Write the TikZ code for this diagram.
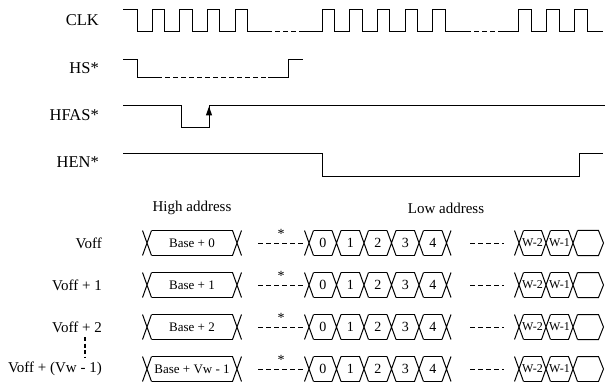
\documentclass[tikz,border=0pt]{standalone}
\usepackage{fontspec}
\setmainfont{Liberation Serif}
\usetikzlibrary{arrows.meta}
\begin{document}
\begin{tikzpicture}[x=1pt,y=-1pt,
  wave/.style={line width=1pt},
  dsh/.style={line width=1pt,dash pattern=on 4.5pt off 3.5pt},
  lbl/.style={anchor=east,font=\fontsize{16.5}{18}\selectfont,inner sep=0pt},
  rowlbl/.style={anchor=east,font=\fontsize{15}{17}\selectfont,inner sep=0pt},
  hdr/.style={font=\fontsize{15}{17}\selectfont,inner sep=0pt},
  celltxt/.style={font=\fontsize{13}{15}\selectfont,inner sep=0pt},
  digtxt/.style={font=\fontsize{14}{16}\selectfont,inner sep=0pt},
  wtxt/.style={font=\fontsize{12}{13}\selectfont,inner sep=0pt}]
\useasboundingbox (0,0) rectangle (605,382);
% signal labels
\node[lbl] (clk) at (99,20) {CLK};
\node[lbl] (hs) at (99,68) {HS*};
\node[lbl] (hfas) at (99,115) {HFAS*};
\node[lbl] (hen) at (99,162) {HEN*};
% CLK
\draw[wave] (123,10) -- (137,10) -- (137,32)
  foreach \x in {152,179.7,207.4,235.1} { -- (\x,32) -- (\x,10) -- ++(12.5,0) -- ++(0,22) } -- (267,32);
\draw[dsh] (267,32) -- (304,32);
\draw[wave] (304,32)
  foreach \x in {322,349.7,377.4,405.1,432.8} { -- (\x,32) -- (\x,10) -- ++(12.5,0) -- ++(0,22) } -- (466,32);
\draw[dsh] (466,32) -- (503,32);
\draw[wave] (503,32)
  foreach \x in {518,546,574} { -- (\x,32) -- (\x,10) -- ++(13,0) -- ++(0,22) } -- (603,32);
% HS*
\draw[wave] (123,60) -- (137,60) -- (137,78) -- (157,78);
\draw[dsh] (157,78) -- (268,78);
\draw[wave] (268,78) -- (288,78) -- (288,60) -- (303,60);
% HFAS*
\draw[wave] (123,106) -- (181,106) -- (181,128) -- (209,128) -- (209,106) -- (605,106);
\draw[wave,-{Triangle[length=9pt,width=6pt]}] (209,125) -- (209,106.5);
% HEN*
\draw[wave] (123,154) -- (322,154) -- (322,177) -- (579,177) -- (579,154) -- (603,154);
% headers
\node[hdr] (high) at (192,208) {High address};
\node[hdr] (low) at (446,208) {Low address};
% rows
\foreach \Y/\lab/\base [count=\i] in {243/{Voff}/{Base + 0}, 285/{Voff + 1}/{Base + 1}, 327/{Voff + 2}/{Base + 2}, 369/{Voff + (Vw - 1)}/{Base + Vw - 1}} {
  \node[rowlbl] (row\i) at (102,\Y) {\lab};
  % high address bus
  \foreach \c in {147,237} {
    \draw[wave] (\c-4.5,\Y-12.5) -- (\c+4.5,\Y+12.5) (\c-4.5,\Y+12.5) -- (\c+4.5,\Y-12.5);
  }
  \draw[wave] (151.5,\Y-12.5) -- (232.5,\Y-12.5) (151.5,\Y+12.5) -- (232.5,\Y+12.5);
  \node[celltxt] (hb\i) at (192,\Y) {\base};
  % gap
  \draw[dsh] (258,\Y) -- (303,\Y);
  \node[digtxt] (ast\i) at (281,\Y-9) {*};
  % low address cells
  \foreach \c in {309,336.5,364,391.5,419,446.5,519,546,573} {
    \draw[wave] (\c-4.5,\Y-12.5) -- (\c+4.5,\Y+12.5) (\c-4.5,\Y+12.5) -- (\c+4.5,\Y-12.5);
  }
  \foreach \a/\b/\t in {309/336.5/0,336.5/364/1,364/391.5/2,391.5/419/3,419/446.5/4} {
    \draw[wave] (\a+4.5,\Y-12.5) -- (\b-4.5,\Y-12.5) (\a+4.5,\Y+12.5) -- (\b-4.5,\Y+12.5);
    \node[digtxt] at ({(\a+\b)/2},\Y) {\t};
  }
  \draw[dsh] (470,\Y) -- (504,\Y);
  \foreach \a/\b/\t in {519/546/W-2,546/573/W-1} {
    \draw[wave] (\a+4.5,\Y-12.5) -- (\b-4.5,\Y-12.5) (\a+4.5,\Y+12.5) -- (\b-4.5,\Y+12.5);
    \node[wtxt] at ({(\a+\b)/2},\Y) {\t};
  }
  \draw[wave] (577.5,\Y-12.5) -- (598.5,\Y-12.5) -- (603.5,\Y) -- (598.5,\Y+12.5) -- (577.5,\Y+12.5);
}
% vertical ellipsis
\draw[line width=1.6pt,dash pattern=on 4pt off 2.5pt] (85,337) -- (85,357);
\end{tikzpicture}
\end{document}
